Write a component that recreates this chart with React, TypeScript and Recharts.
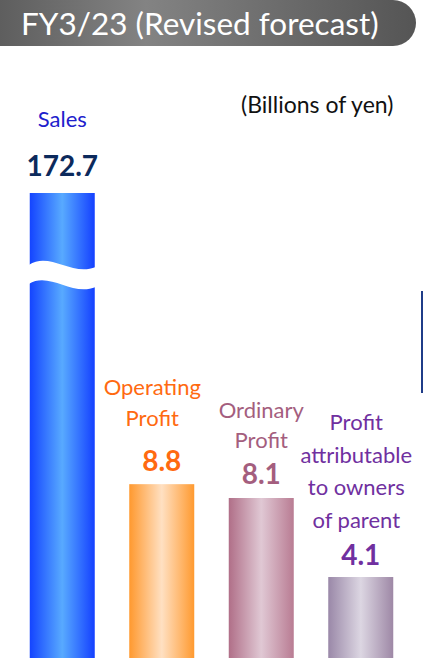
import { BarChart, Bar, XAxis, YAxis, LabelList } from 'recharts';

const categories = ['Sales', 'Operating Profit', 'Ordinary Profit', 'Profit attributable to owners of parent'];
const nameLines = [['Sales'], ['Operating', 'Profit'], ['Ordinary', 'Profit'], ['Profit', 'attributable', 'to owners', 'of parent']];
const values = [172.7, 8.8, 8.1, 4.1];
const valueLabels = ['172.7', '8.8', '8.1', '4.1'];

// visible range of the broken axis (sales bar is cut at the top)
const axisMax = 23.54;

const nameColors = ['#2020cc', '#ff6a10', '#a45e7e', '#7030a0'];
const valueColors = ['#0c2a5c', '#ff6a10', '#a45e7e', '#7030a0'];
const barStops = [
  ['#1444ff', '#58aaff', '#1440ff'],
  ['#ff992f', '#ffe0c2', '#ff9a30'],
  ['#b06f88', '#e0c8d4', '#b97c93'],
  ['#9a88a8', '#dcd6e2', '#9e88a6'],
];
// label layout relative to bar top: value centre, last name line centre, line height, x shift
const labelLayout = [
  { value: -28, name: -75, lh: 30, dx: 0 },
  { value: -24, name: -67, lh: 31, dx: -9.5 },
  { value: -25, name: -58, lh: 30, dx: 0 },
  { value: -23, name: -58, lh: 32.5, dx: -4.5 },
];

const PLOT_TOP = 193;
const FONT = 'Lato, "Open Sans", sans-serif';

const data = categories.map((name, i) => ({ name, value: values[i], idx: i }));

function BarShape(props: any) {
  const { x, y, width, height, index } = props;
  const stops = barStops[index];
  const id = `grad-${index}`;
  const top = Math.max(y, PLOT_TOP);
  return (
    <g>
      <defs>
        <linearGradient id={id} x1="0" y1="0" x2="1" y2="0">
          <stop offset="0%" stopColor={stops[0]} />
          <stop offset="50%" stopColor={stops[1]} />
          <stop offset="100%" stopColor={stops[2]} />
        </linearGradient>
      </defs>
      <rect x={x} y={y} width={width} height={height} fill={`url(#${id})`} />
      {index === 0 && (
        <path
          d={`M${x - 1},${top + 72} C${x + 20},${top + 58} ${x + 42},${top + 84} ${x + width + 1},${top + 74}
             L${x + width + 1},${top + 94} C${x + 42},${top + 104} ${x + 20},${top + 78} ${x - 1},${top + 91} Z`}
          fill="#fff"
        />
      )}
    </g>
  );
}

function BarLabel(props: any) {
  const { x, y, width, index } = props;
  const lay = labelLayout[index];
  const cx = x + width / 2;
  const top = Math.max(y, PLOT_TOP);
  const lines = nameLines[index];
  return (
    <g fontFamily={FONT}>
      {lines.map((t, k) => (
        <text
          key={k}
          x={cx + lay.dx}
          y={top + lay.name - (lines.length - 1 - k) * lay.lh}
          textAnchor="middle"
          dominantBaseline="central"
          fontSize={22}
          fill={nameColors[index]}
        >
          {t}
        </text>
      ))}
      <text
        x={cx}
        y={top + lay.value}
        textAnchor="middle"
        dominantBaseline="central"
        fontSize={28}
        fontWeight={700}
        fill={valueColors[index]}
      >
        {valueLabels[index]}
      </text>
    </g>
  );
}

export default function App() {
  return (
    <div style={{ position: 'absolute', left: 0, top: 0, width: 424, height: 658, background: '#fff', overflow: 'hidden' }}>
      <div
        style={{
          position: 'absolute', left: 0, top: 0, width: 416, height: 46,
          borderRadius: '0 23px 23px 0',
          background: 'linear-gradient(90deg, #5e5e5e 0%, #838383 35%, #6a6a6a 70%, #555555 100%)',
          color: '#fff', fontFamily: FONT, fontSize: 31.5, lineHeight: '46px', paddingLeft: 21, boxSizing: 'border-box',
          whiteSpace: 'nowrap',
        }}
      >
        FY3/23 (Revised forecast)
      </div>
      <div style={{ position: 'absolute', left: 241, top: 90, fontFamily: FONT, fontSize: 23, color: '#111', whiteSpace: 'nowrap' }}>
        (Billions of yen)
      </div>
      <div style={{ position: 'absolute', left: 421, top: 291, width: 2, height: 102, background: '#1f3c88' }} />
      <BarChart
        width={424}
        height={658}
        data={data}
        margin={{ top: PLOT_TOP, right: 13.25, bottom: 0, left: 12.75 }}
        barCategoryGap={0}
        style={{ position: 'absolute', left: 0, top: 0 }}
      >
        <XAxis dataKey="name" hide />
        <YAxis hide domain={[0, axisMax]} allowDataOverflow />
        <Bar dataKey="value" barSize={65} shape={BarShape} isAnimationActive={false}>
          <LabelList dataKey="value" content={BarLabel} />
        </Bar>
      </BarChart>
    </div>
  );
}
